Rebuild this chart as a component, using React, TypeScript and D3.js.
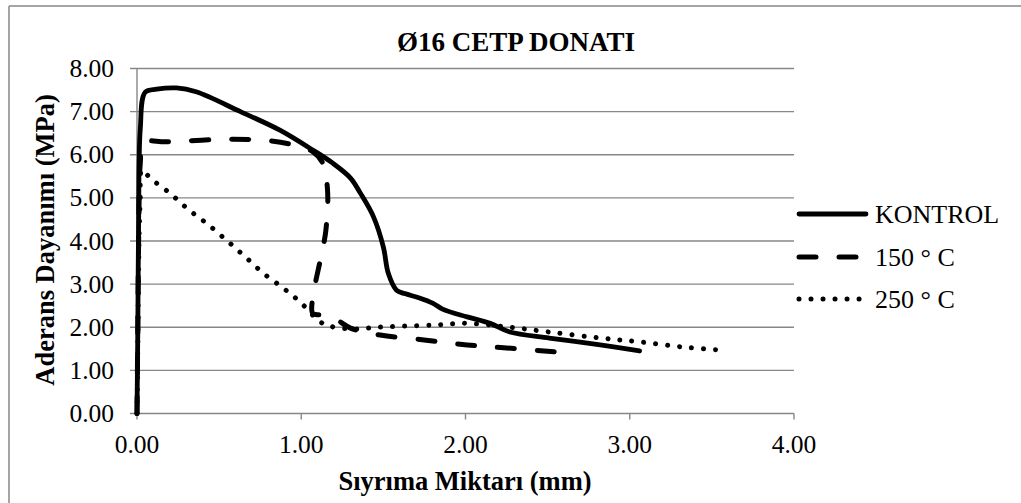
import React from "react";
import * as d3 from "d3";

const title = "Ø16 CETP DONATI";
const xTitle = "Sıyrıma Miktarı (mm)";
const yTitle = "Aderans Dayanımı (MPa)";
const xTicks = [0, 1, 2, 3, 4];
const yTicks = [0, 1, 2, 3, 4, 5, 6, 7, 8];
const seriesNames = ["KONTROL", "150 ° C", "250 ° C"];

const kontrolX = [0, 0.005, 0.01, 0.02, 0.05, 0.12, 0.24, 0.36, 0.63, 0.87, 1.07, 1.19, 1.30, 1.36, 1.44, 1.50, 1.53, 1.58, 1.63, 1.72, 1.80, 1.86, 2.01, 2.15, 2.27, 2.51, 2.82, 3.06];
const kontrolY = [0, 2.0, 4.5, 6.6, 7.45, 7.52, 7.55, 7.46, 7.0, 6.57, 6.11, 5.81, 5.46, 5.11, 4.56, 3.86, 3.25, 2.86, 2.78, 2.68, 2.56, 2.42, 2.24, 2.09, 1.89, 1.75, 1.59, 1.45];

const t150X = [0, 0.005, 0.01, 0.02, 0.04, 0.18, 0.58, 0.79, 0.95, 1.07, 1.13, 1.16, 1.15, 1.12, 1.09, 1.07, 1.07, 1.12, 1.22, 1.30, 1.48, 1.76, 2.01, 2.25, 2.54];
const t150Y = [0, 2.0, 4.0, 5.8, 6.28, 6.30, 6.36, 6.33, 6.23, 6.07, 5.81, 5.18, 4.25, 3.63, 3.1, 2.70, 2.32, 2.28, 2.16, 1.98, 1.82, 1.70, 1.59, 1.52, 1.43];

const t250X = [0, 0.005, 0.01, 0.02, 0.03, 0.08, 0.20, 0.31, 0.43, 0.55, 0.66, 0.77, 0.89, 1.00, 1.11, 1.17, 1.32, 1.46, 1.80, 2.01, 2.25, 2.51, 2.82, 3.06, 3.33, 3.56];
const t250Y = [0, 1.5, 3.5, 5.0, 5.65, 5.46, 5.11, 4.74, 4.39, 4.00, 3.63, 3.25, 2.91, 2.56, 2.14, 2.03, 1.96, 2.00, 2.05, 2.09, 2.01, 1.89, 1.75, 1.66, 1.54, 1.47];

const W = 1021;
const H = 503;
const FONT = "'Liberation Serif', 'Times New Roman', serif";
const GRID = "#878787";

export default function App() {
  const x = d3.scaleLinear().domain([0, 4]).range([137, 794]);
  const y = d3.scaleLinear().domain([0, 8]).range([413.5, 68.5]);

  const line = d3
    .line<[number, number]>()
    .x((d) => x(d[0]))
    .y((d) => y(d[1]))
    .curve(d3.curveCatmullRom.alpha(0.5));

  const zip = (a: number[], b: number[]) => a.map((v, i) => [v, b[i]] as [number, number]);

  const styles = [
    { dash: undefined as string | undefined, width: 4.8 },
    { dash: "17,23", width: 5 },
    { dash: "0.01,12", width: 5 },
  ];
  const data = [zip(kontrolX, kontrolY), zip(t150X, t150Y), zip(t250X, t250Y)];
  const legendY = [214, 257, 299];

  return (
    <svg
      width={W}
      height={H}
      style={{ position: "absolute", left: 0, top: 0, background: "#fff" }}
      fontFamily={FONT}
    >
      <rect x={0} y={0} width={W} height={H} fill="#fff" />
      {/* chart border */}
      <line x1={9} x2={W} y1={6} y2={6} stroke={GRID} strokeWidth={1.5} />
      <line x1={9} x2={9} y1={6} y2={H} stroke={GRID} strokeWidth={1.5} />

      {/* gridlines + y ticks */}
      {yTicks.map((t) => (
        <line key={"g" + t} x1={130} x2={794} y1={y(t)} y2={y(t)} stroke={GRID} strokeWidth={1.4} />
      ))}
      <line x1={x(0)} x2={x(0)} y1={y(8)} y2={y(0)} stroke={GRID} strokeWidth={1.4} />
      {xTicks.map((t) => (
        <line key={"xt" + t} x1={x(t)} x2={x(t)} y1={y(0)} y2={y(0) + 6} stroke={GRID} strokeWidth={1.4} />
      ))}

      {/* tick labels */}
      {yTicks.map((t) => (
        <text key={"yl" + t} x={114} y={y(t) + 8.5} textAnchor="end" fontSize={25.5} fill="#000">
          {t.toFixed(2)}
        </text>
      ))}
      {xTicks.map((t) => (
        <text key={"xl" + t} x={x(t)} y={453} textAnchor="middle" fontSize={25.5} fill="#000">
          {t.toFixed(2)}
        </text>
      ))}

      {/* series */}
      {data.map((d, i) => (
        <path
          key={"s" + i}
          d={line(d) || ""}
          fill="none"
          stroke="#000"
          strokeWidth={styles[i].width}
          strokeDasharray={styles[i].dash}
          strokeLinecap="round"
          strokeLinejoin="round"
        />
      ))}

      {/* titles */}
      <text x={516} y={51} textAnchor="middle" fontSize={27} fontWeight="bold" fill="#000">
        {title}
      </text>
      <text x={465} y={490} textAnchor="middle" fontSize={26.5} fontWeight="bold" fill="#000">
        {xTitle}
      </text>
      <text
        transform={`translate(54,${240}) rotate(-90)`}
        textAnchor="middle"
        fontSize={26.5}
        fontWeight="bold"
        fill="#000"
      >
        {yTitle}
      </text>

      {/* legend */}
      {seriesNames.map((n, i) => (
        <g key={"lg" + i}>
          <line
            x1={799}
            x2={866}
            y1={legendY[i]}
            y2={legendY[i]}
            stroke="#000"
            strokeWidth={styles[i].width}
            strokeDasharray={styles[i].dash}
            strokeLinecap="round"
          />
          <text x={875} y={legendY[i] + 9} fontSize={26} fill="#000">
            {n}
          </text>
        </g>
      ))}
    </svg>
  );
}
